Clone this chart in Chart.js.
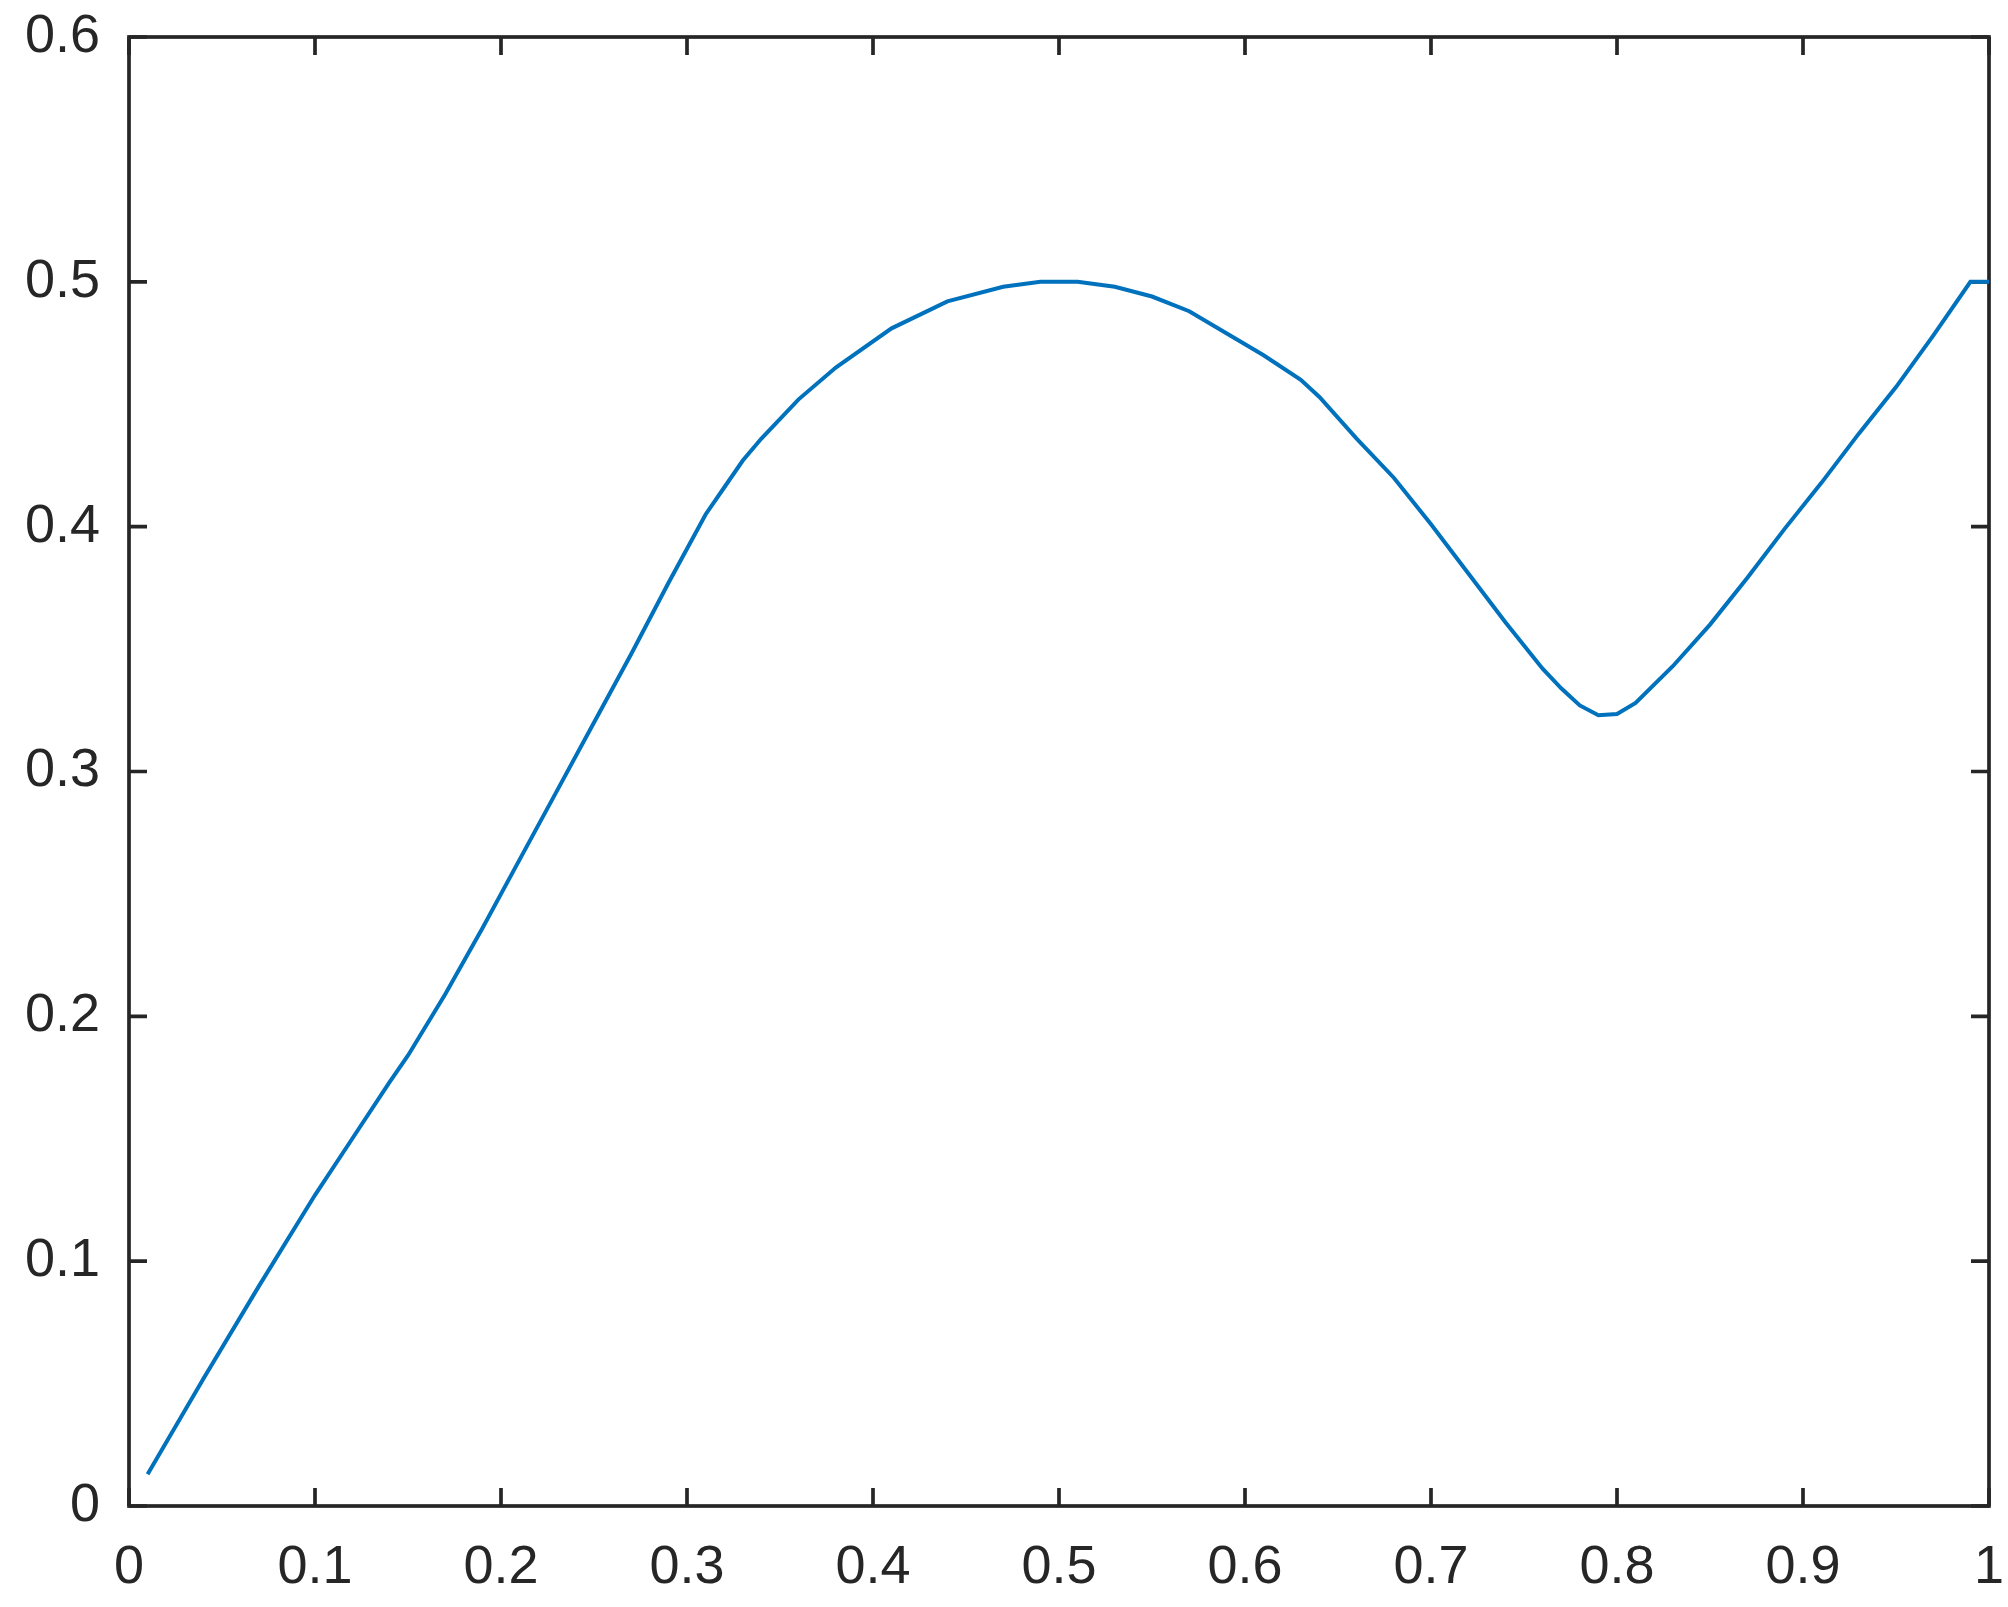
<!DOCTYPE html>
<html>
<head>
<meta charset="utf-8">
<script src="https://cdn.jsdelivr.net/npm/chart.js@4.4.1/dist/chart.umd.min.js"></script>
<style>
    html, body { margin: 0; padding: 0; background: #ffffff; }
    #wrap { width: 2008px; height: 1607px; }
</style>
</head>
<body>
<div id="wrap"><canvas id="curveChart" width="2008" height="1607"></canvas></div>
<script>
// values
const xValues = [0.01, 0.04, 0.07, 0.10, 0.12, 0.14, 0.15, 0.17, 0.19, 0.21,
                 0.23, 0.25, 0.27, 0.29, 0.31, 0.32, 0.33, 0.34, 0.36, 0.38,
                 0.41, 0.44, 0.47, 0.49, 0.51, 0.53, 0.55, 0.57, 0.59, 0.61,
                 0.63, 0.64, 0.66, 0.68, 0.70, 0.72, 0.74, 0.76, 0.77, 0.78,
                 0.79, 0.80, 0.81, 0.83, 0.85, 0.87, 0.89, 0.91, 0.93, 0.95,
                 0.97, 0.99, 1.00];
const yValues = [0.013, 0.052, 0.090, 0.127, 0.150, 0.173, 0.184, 0.209, 0.236, 0.264,
                 0.292, 0.320, 0.348, 0.377, 0.405, 0.416, 0.427, 0.436, 0.452, 0.465,
                 0.481, 0.492, 0.498, 0.500, 0.500, 0.498, 0.494, 0.488, 0.479, 0.470,
                 0.460, 0.453, 0.436, 0.420, 0.401, 0.381, 0.361, 0.342, 0.334, 0.327,
                 0.323, 0.3235, 0.328, 0.343, 0.360, 0.379, 0.399, 0.418, 0.438, 0.457,
                 0.478, 0.500, 0.500];
const xTicks = [0, 0.1, 0.2, 0.3, 0.4, 0.5, 0.6, 0.7, 0.8, 0.9, 1];
const yTicks = [0, 0.1, 0.2, 0.3, 0.4, 0.5, 0.6];

const axisColor = "#262626";
const lineColor = "#0072BD";
const tickLen = 18;

// box round the plot with inward ticks on all four sides
const framePlugin = {
    id: "frame",
    beforeDatasetsDraw(chart) {
        const { ctx, chartArea: a, scales } = chart;
        ctx.save();
        ctx.strokeStyle = axisColor;
        ctx.lineWidth = 3.7;
        ctx.beginPath();
        xTicks.forEach(v => {
            const px = scales.x.getPixelForValue(v);
            ctx.moveTo(px, a.bottom);
            ctx.lineTo(px, a.bottom - tickLen);
            ctx.moveTo(px, a.top);
            ctx.lineTo(px, a.top + tickLen);
        });
        yTicks.forEach(v => {
            const py = scales.y.getPixelForValue(v);
            ctx.moveTo(a.left, py);
            ctx.lineTo(a.left + tickLen, py);
            ctx.moveTo(a.right, py);
            ctx.lineTo(a.right - tickLen, py);
        });
        ctx.stroke();
        ctx.strokeRect(a.left, a.top, a.right - a.left, a.bottom - a.top);
        ctx.restore();
    }
};

const labelFont = { family: "'Liberation Sans', Arial, sans-serif", size: 54 };

// invisible tick marks give the gap between labels and the box
// (tick padding would also widen the layout overhang)
const hiddenGrid = len => ({
    display: true,
    drawOnChartArea: false,
    drawTicks: true,
    tickLength: len,
    color: "rgba(0,0,0,0)"
});

new Chart(document.getElementById("curveChart"), {
    type: "line",
    data: {
        datasets: [{
            data: xValues.map((x, i) => ({ x: x, y: yValues[i] })),
            borderColor: lineColor,
            backgroundColor: "transparent",
            borderWidth: 4,
            pointRadius: 0,
            tension: 0
        }]
    },
    options: {
        responsive: false,
        animation: false,
        events: [],
        layout: { padding: { top: 37, right: 19, left: 0, bottom: 0 } },
        plugins: {
            legend: { display: false },
            tooltip: { enabled: false }
        },
        scales: {
            x: {
                type: "linear",
                min: 0,
                max: 1,
                grid: hiddenGrid(30),
                border: { display: false },
                afterBuildTicks: s => { s.ticks = xTicks.map(v => ({ value: v })); },
                afterFit: s => { s.height = 101; },
                ticks: {
                    color: axisColor,
                    font: labelFont,
                    padding: 0,
                    maxRotation: 0,
                    autoSkip: false,
                    callback: v => String(+v.toFixed(1))
                }
            },
            y: {
                type: "linear",
                min: 0,
                max: 0.6,
                grid: hiddenGrid(29),
                border: { display: false },
                afterBuildTicks: s => { s.ticks = yTicks.map(v => ({ value: v })); },
                afterFit: s => { s.width = 129; },
                ticks: {
                    color: axisColor,
                    font: labelFont,
                    padding: 0,
                    autoSkip: false,
                    callback: v => String(+v.toFixed(1))
                }
            }
        }
    },
    plugins: [framePlugin]
});
</script>
</body>
</html>
